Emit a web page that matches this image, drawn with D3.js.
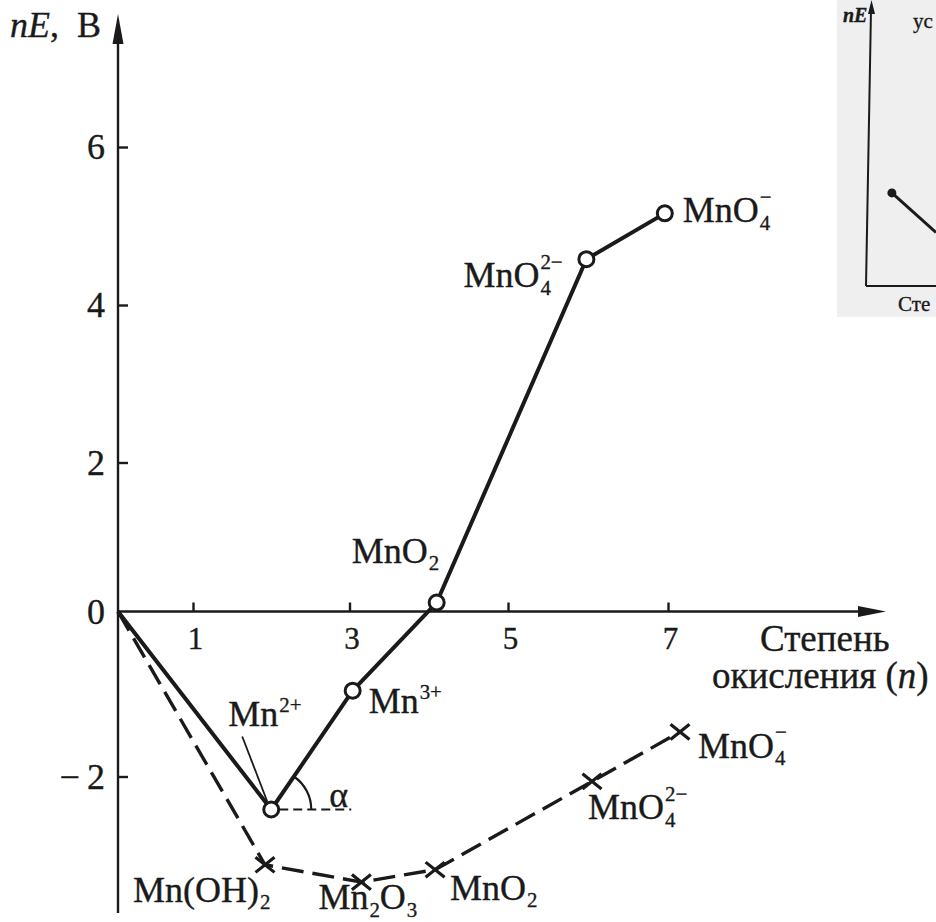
<!DOCTYPE html>
<html>
<head>
<meta charset="utf-8">
<script src="https://cdn.jsdelivr.net/npm/d3@7"></script>
<style>
  html, body { margin: 0; padding: 0; background: #ffffff; }
  svg { display: block; }
  text { font-family: "Liberation Serif", "DejaVu Serif", serif; fill: #1a1a1a; stroke: #1a1a1a; stroke-width: 0.35px; }
</style>
</head>
<body>
<svg id="chart" width="936" height="922"></svg>
<script>
// ---------------- DATA ----------------
const xTicks = [1, 3, 5, 7];
const yTicks = [-2, 0, 2, 4, 6];

// acidic medium (solid line, open circles)
const acidN  = [0, 2.0, 3.04, 4.1, 5.98, 6.96];
const acidNE = [0, -2.40, -0.96, 0.12, 4.58, 5.16];
const acidSpecies = ["", "Mn^{2+}", "Mn^{3+}", "MnO_2", "MnO_4^{2\u2212}", "MnO_4^{\u2212}"];

// basic medium (dashed line, crosses)
const baseN  = [0, 1.92, 3.15, 4.08, 6.05, 7.15];
const baseNE = [0, -3.07, -3.28, -3.13, -2.06, -1.46];
const baseSpecies = ["", "Mn(OH)_2", "Mn_2O_3", "MnO_2", "MnO_4^{2\u2212}", "MnO_4^{\u2212}"];

const yTitle = ["nE", ",\u2002\u0412"];
const xTitle = ["\u0421\u0442\u0435\u043f\u0435\u043d\u044c", "\u043e\u043a\u0438\u0441\u043b\u0435\u043d\u0438\u044f (", "n", ")"];

// inset fragment (cropped neighbouring figure)
const insetPoints = [[0.37, 0.33], [1.0, 0.19]];
const insetTexts = ["nE", "\u0443\u0441", "\u0421\u0442\u0435"];

// ---------------- LAYOUT ----------------
const ink = "#1a1a1a";
const svg = d3.select("#chart");

const x = d3.scaleLinear().domain([0, 1, 3, 5, 7]).range([118, 193, 349.5, 508, 668]);
const y = d3.scaleLinear().domain([-2, 0, 2, 4, 6]).range([776.5, 611.5, 462.5, 305, 147]);

const X0 = x(0), Y0 = y(0);

// label offsets (px) relative to their points
const acidOffsets = [null, [-43, -84], [16, 22], [-85, -40], [-123, 28], [18, 9]];
const baseOffsets = [null, [-132, 37], [-43, 27], [15, 30], [-4, 38], [18, 26]];

// ---------------- AXES ----------------
const gAx = svg.append("g");
gAx.append("line").attr("x1", X0).attr("x2", X0).attr("y1", 913).attr("y2", 30)
  .attr("stroke", ink).attr("stroke-width", 2.4);
gAx.append("path").attr("d", `M${X0},14 L${X0 - 5.5},44 L${X0 + 5.5},44 Z`).attr("fill", ink);
gAx.append("line").attr("x1", X0).attr("x2", 870).attr("y1", Y0).attr("y2", Y0)
  .attr("stroke", ink).attr("stroke-width", 2.4);
gAx.append("path").attr("d", `M886,${Y0} L858,${Y0 - 5.5} L858,${Y0 + 5.5} Z`).attr("fill", ink);

const yAxis = d3.axisLeft(y).tickValues(yTicks).tickSizeInner(-10).tickSizeOuter(0).tickPadding(13)
  .tickFormat(d => d < 0 ? "\u2212\u2009" + Math.abs(d) : String(d));
const gy = svg.append("g").attr("transform", `translate(${X0},0)`).call(yAxis);
gy.select(".domain").remove();
gy.selectAll(".tick line").attr("stroke", ink).attr("stroke-width", 2.4);
gy.selectAll(".tick text").attr("font-size", 36).attr("font-family", "Liberation Serif").attr("fill", ink);
gy.selectAll(".tick").filter(d => d === 0).select("line").remove();

const xAxis = d3.axisBottom(x).tickValues(xTicks).tickFormat(d3.format("d"))
  .tickSizeInner(-9).tickSizeOuter(0).tickPadding(15);
const gx = svg.append("g").attr("transform", `translate(0,${Y0})`).call(xAxis);
gx.select(".domain").remove();
gx.selectAll(".tick line").attr("stroke", ink).attr("stroke-width", 2.4);
gx.selectAll(".tick text").attr("font-size", 31).attr("font-family", "Liberation Serif").attr("fill", ink)
  .attr("dx", 2);

// axis titles
const yt = svg.append("text").attr("x", 10).attr("y", 37).attr("font-size", 36);
yt.append("tspan").attr("font-style", "italic").text(yTitle[0]);
yt.append("tspan").text(yTitle[1]);

svg.append("text").attr("x", 760).attr("y", 651).attr("font-size", 37).text(xTitle[0]);
const xt2 = svg.append("text").attr("x", 712).attr("y", 688).attr("font-size", 37);
xt2.append("tspan").text(xTitle[1]);
xt2.append("tspan").attr("font-style", "italic").text(xTitle[2]);
xt2.append("tspan").text(xTitle[3]);

// ---------------- LINES ----------------
const acid = acidN.map((n, i) => ({ n, e: acidNE[i], s: acidSpecies[i], o: acidOffsets[i] }));
const base = baseN.map((n, i) => ({ n, e: baseNE[i], s: baseSpecies[i], o: baseOffsets[i] }));

const line = d3.line().x(d => x(d.n)).y(d => y(d.e));

svg.append("path").datum(base).attr("d", line).attr("fill", "none")
  .attr("stroke", ink).attr("stroke-width", 3.4).attr("stroke-dasharray", "22,9");

svg.append("path").datum(acid).attr("d", line).attr("fill", "none")
  .attr("stroke", ink).attr("stroke-width", 4).attr("stroke-linejoin", "round");

// alpha angle construction at Mn2+
const p2 = acid[1], p3 = acid[2];
const cx = x(p2.n), cy = y(p2.e);
svg.append("line").attr("x1", cx + 8).attr("x2", cx + 80).attr("y1", cy).attr("y2", cy)
  .attr("stroke", ink).attr("stroke-width", 2.2).attr("stroke-dasharray", "9,5");
const ang = Math.atan2(cy - y(p3.e), x(p3.n) - cx);
const R = 40;
svg.append("path")
  .attr("d", `M${cx + R * Math.cos(ang)},${cy - R * Math.sin(ang)} A${R},${R} 0 0 1 ${cx + R},${cy}`)
  .attr("fill", "none").attr("stroke", ink).attr("stroke-width", 2.2);
svg.append("text").attr("x", cx + 58).attr("y", cy - 3).attr("font-size", 36).text("\u03b1");

// leader line for Mn2+ label
svg.append("line").attr("x1", cx - 29).attr("y1", cy - 73).attr("x2", cx - 4).attr("y2", cy - 8)
  .attr("stroke", ink).attr("stroke-width", 1.8);

// markers
svg.append("g").selectAll("circle").data(acid.slice(1)).join("circle")
  .attr("cx", d => x(d.n)).attr("cy", d => y(d.e)).attr("r", 7.5)
  .attr("fill", "#fff").attr("stroke", ink).attr("stroke-width", 3);

const cs = 9.5;
svg.append("g").selectAll("path").data(base.slice(1)).join("path")
  .attr("d", d => {
    const px = x(d.n), py = y(d.e);
    return `M${px - cs},${py - cs * 0.8} L${px + cs},${py + cs * 0.8} M${px - cs},${py + cs * 0.8} L${px + cs},${py - cs * 0.8}`;
  })
  .attr("stroke", ink).attr("stroke-width", 3.2).attr("fill", "none");

// ---------------- LABELS ----------------
function parse(s) {
  const out = []; let i = 0;
  while (i < s.length) {
    if (s[i] === "_" || s[i] === "^") {
      const kind = s[i] === "_" ? "sub" : "sup"; i++;
      let t;
      if (s[i] === "{") { const j = s.indexOf("}", i); t = s.slice(i + 1, j); i = j + 1; }
      else { t = s[i]; i++; }
      out.push({ kind, t });
    } else {
      let j = i;
      while (j < s.length && s[j] !== "_" && s[j] !== "^") j++;
      out.push({ kind: "base", t: s.slice(i, j) }); i = j;
    }
  }
  return out;
}

function richLabel(g, x0, y0, s, size) {
  let cur = x0, subStart = null, prev = null;
  const small = size * 0.58;
  parse(s).forEach(p => {
    if (p.kind === "base") {
      const t = g.append("text").attr("x", cur).attr("y", y0).attr("font-size", size).text(p.t);
      cur += t.node().getComputedTextLength();
    } else if (p.kind === "sub") {
      const t = g.append("text").attr("x", cur + 1).attr("y", y0 + 7.5).attr("font-size", small).text(p.t);
      subStart = cur + 1;
      cur += 1 + t.node().getComputedTextLength();
    } else {
      const stacked = prev === "sub";
      const sx = stacked ? subStart : cur + 1;
      const t = g.append("text").attr("x", sx).attr("y", y0 - (stacked ? 18.5 : 14))
        .attr("font-size", small).text(p.t);
      cur = Math.max(cur, sx + t.node().getComputedTextLength());
    }
    prev = p.kind;
  });
}

const gl = svg.append("g");
acid.concat(base).forEach(d => {
  if (!d.o) return;
  richLabel(gl, x(d.n) + d.o[0], y(d.e) + d.o[1], d.s, 36);
});

// ---------------- INSET FRAGMENT ----------------
const ix = d3.scaleLinear().domain([0, 1]).range([866, 936]);
const iy = d3.scaleLinear().domain([0, 1]).range([286, 4]);
const gi = svg.append("g");
gi.append("rect").attr("x", 837).attr("y", 0).attr("width", 99).attr("height", 317).attr("fill", "#efefef");
gi.append("line").attr("x1", 871).attr("y1", 10).attr("x2", 866).attr("y2", 286)
  .attr("stroke", ink).attr("stroke-width", 2);
gi.append("path").attr("d", "M871.5,0 L868,14 L875,14 Z").attr("fill", ink);
gi.append("line").attr("x1", 866).attr("y1", 286).attr("x2", 936).attr("y2", 286)
  .attr("stroke", ink).attr("stroke-width", 2);
gi.append("path").datum(insetPoints).attr("d", d3.line().x(d => ix(d[0])).y(d => iy(d[1])))
  .attr("stroke", ink).attr("stroke-width", 3).attr("fill", "none");
gi.append("circle").attr("cx", ix(insetPoints[0][0])).attr("cy", iy(insetPoints[0][1])).attr("r", 4.5).attr("fill", ink);
gi.append("text").attr("x", 843).attr("y", 22).attr("font-size", 20).attr("font-style", "italic").attr("font-weight", "bold").text(insetTexts[0]);
gi.append("text").attr("x", 913).attr("y", 28).attr("font-size", 21).text(insetTexts[1]);
gi.append("text").attr("x", 898).attr("y", 311).attr("font-size", 21).text(insetTexts[2]);
</script>
</body>
</html>
